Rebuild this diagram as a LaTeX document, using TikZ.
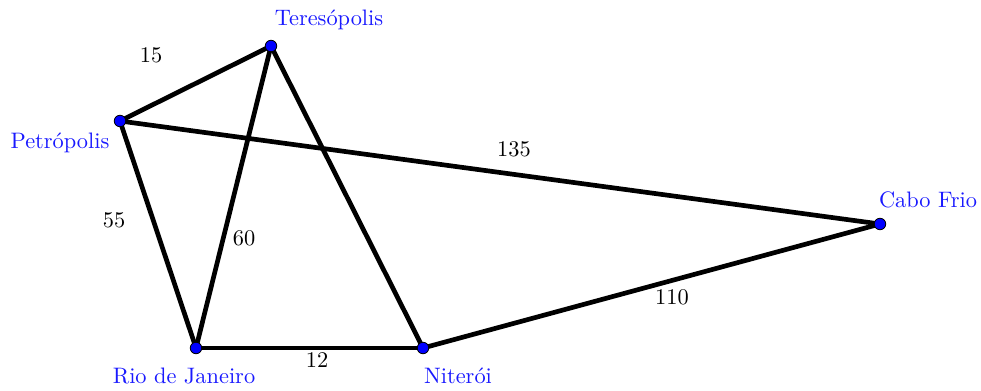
\documentclass[tikz,border=0pt]{standalone}
\usepackage{amsmath,amssymb}
\usepackage{tikz}

\tikzset{
	city/.style={circle,inner sep=0pt,minimum size=0.19cm},
	cityname/.style={text=blue!90!white,font=\fontsize{10.5}{12}\selectfont},
	road/.style={black,line width=2.2pt},
	dist/.style={black,font=\fontsize{10.5}{12}\selectfont}
}

\begin{document}
\begin{tikzpicture}[x=0.0165cm,y=-0.0165cm]
		\useasboundingbox (0,0) rectangle (981,390);

		% >>> cities
		\node[city] (ter) at (271,46) {};
		\node[city] (pet) at (120,121) {};
		\node[city] (cab) at (880,224) {};
		\node[city] (rio) at (196,348) {};
		\node[city] (nit) at (423,348) {};
		% <<< cities

		% >>> roads
		\draw[road] (pet.center) -- (ter.center);
		\draw[road] (pet.center) -- (cab.center);
		\draw[road] (pet.center) -- (rio.center);
		\draw[road] (ter.center) -- (rio.center);
		\draw[road] (ter.center) -- (nit.center);
		\draw[road] (rio.center) -- (nit.center);
		\draw[road] (nit.center) -- (cab.center);
		% <<< roads

		% dots on top
		\foreach \c in {ter,pet,cab,rio,nit}
			\fill[blue,draw=black,line width=0.4pt] (\c) circle (0.095cm);

		% >>> names
		\node[cityname] (terlab) at (329,20) {Teresópolis};
		\node[cityname] (petlab) at (60,143) {Petrópolis};
		\node[cityname] (cablab) at (928,200) {Cabo Frio};
		\node[cityname] (riolab) at (184,376) {Rio de Janeiro};
		\node[cityname] (nitlab) at (458,376) {Niterói};
		% <<< names

		% >>> distances
		\node[dist] (d15) at (151,55) {15};
		\node[dist] (d135) at (514,149) {135};
		\node[dist] (d55) at (114,220) {55};
		\node[dist] (d60) at (244,238) {60};
		\node[dist] (d110) at (672,297) {110};
		\node[dist] (d12) at (317,360) {12};
		% <<< distances

	\end{tikzpicture}
\end{document}
